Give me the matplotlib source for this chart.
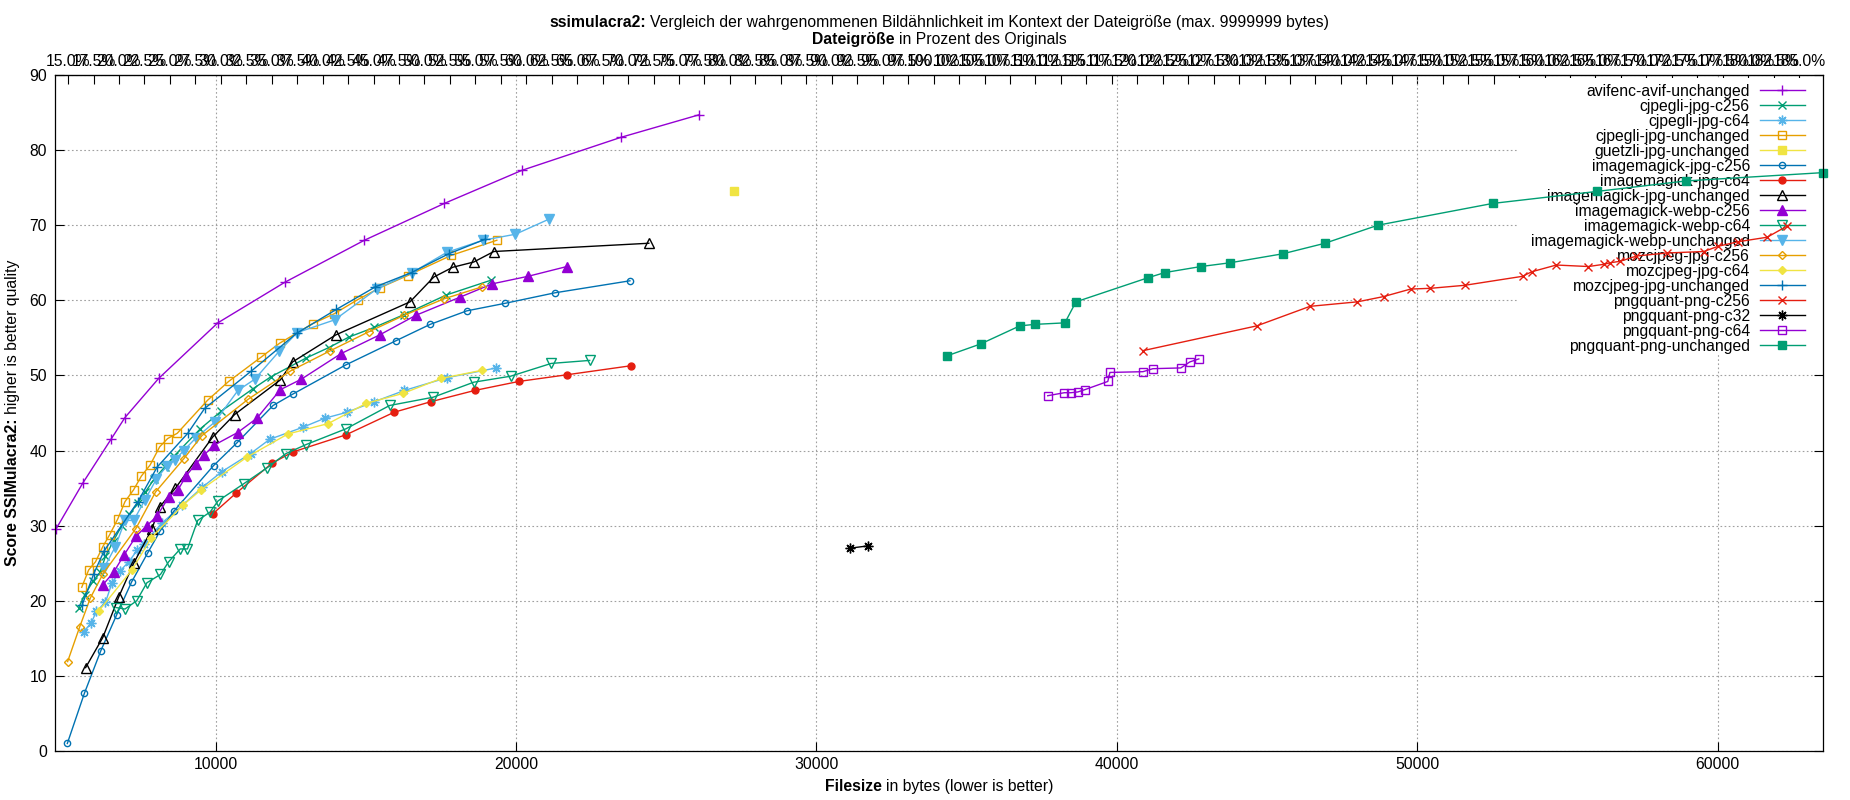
import matplotlib
matplotlib.use('Agg')
import matplotlib.pyplot as plt
from matplotlib.ticker import MultipleLocator, FormatStrFormatter
from matplotlib.patches import Rectangle

plt.rcParams['font.family'] = ['Liberation Sans', 'DejaVu Sans']
plt.rcParams['font.size'] = 11.3

# size of the original file, used for the percent axis on top
ORIGINAL_BYTES = 33900
X_MIN, X_MAX = 4660, 63510

avifenc_avif_unchanged_x = [4690, 5580, 6530, 6980, 8100, 10070, 12300, 14950, 17610, 20190, 23490, 26090]
avifenc_avif_unchanged_y = [29.6, 35.7, 41.6, 44.4, 49.6, 57.0, 62.4, 68.0, 72.9, 77.3, 81.7, 84.7]

cjpegli_jpg_c256_x = [5440, 5640, 5915, 6150, 6330, 6600, 6870, 7130, 7400, 7660, 7950, 8300, 8620,
                      9490, 10170, 11230, 11830, 13000, 13760, 14430, 15280, 16270, 17670, 19180]
cjpegli_jpg_c256_y = [19.1, 20.8, 22.6, 23.8, 25.9, 28.0, 30.0, 31.5, 33.0, 34.5, 36.2, 37.8, 39.3,
                      42.9, 45.2, 48.2, 49.8, 52.3, 53.7, 55.1, 56.4, 58.1, 60.7, 62.7]

cjpegli_jpg_c64_x = [5600, 5850, 6030, 6330, 6550, 6820, 7110, 7380, 7600, 8220, 8890, 9550, 10210,
                     11160, 11800, 12900, 13630, 14370, 15280, 16280, 17700, 19340]
cjpegli_jpg_c64_y = [15.9, 17.0, 18.6, 19.8, 22.4, 24.0, 25.2, 26.7, 27.6, 30.4, 32.7, 35.1, 37.2,
                     39.6, 41.5, 43.1, 44.3, 45.1, 46.5, 48.0, 49.7, 51.0]

cjpegli_jpg_unchanged_x = [5540, 5770, 6000, 6240, 6470, 6740, 6980, 7270, 7525, 7820, 8135, 8400,
                           8720, 9730, 10430, 11500, 12130, 13230, 13940, 14730, 15480, 16390, 17850, 19360]
cjpegli_jpg_unchanged_y = [21.8, 24.1, 25.2, 27.2, 28.8, 30.9, 33.2, 34.8, 36.6, 38.1, 40.5, 41.6,
                           42.3, 46.7, 49.2, 52.4, 54.3, 56.9, 58.2, 60.1, 61.7, 63.3, 66.0, 68.0]

guetzli_jpg_unchanged_x = [27260]
guetzli_jpg_unchanged_y = [74.5]

imagemagick_jpg_c256_x = [5060, 5630, 6170, 6700, 7200, 7740, 8150, 8600, 9930, 10700, 11910, 12560,
                          14330, 15990, 17140, 18360, 19630, 21290, 23790]
imagemagick_jpg_c256_y = [1.0, 7.7, 13.3, 18.1, 22.5, 26.4, 29.3, 31.9, 38.0, 41.0, 46.0, 47.5,
                          51.4, 54.6, 56.8, 58.6, 59.6, 61.0, 62.6]

imagemagick_jpg_c64_x = [9910, 10670, 11870, 12560, 14340, 15940, 17160, 18620, 20090, 21710, 23840]
imagemagick_jpg_c64_y = [31.6, 34.3, 38.3, 39.8, 42.1, 45.1, 46.5, 48.0, 49.2, 50.1, 51.3]

imagemagick_jpg_unchanged_x = [5670, 6240, 6770, 7270, 7870, 8135, 8660, 9900, 10630, 12150, 12560,
                               14000, 16470, 17260, 17890, 18590, 19260, 24420]
imagemagick_jpg_unchanged_y = [11.1, 15.1, 20.5, 25.0, 29.5, 32.5, 35.0, 41.8, 44.8, 49.4, 51.8,
                               55.4, 59.8, 63.1, 64.4, 65.1, 66.5, 67.6]

imagemagick_webp_c256_x = [6240, 6600, 6950, 7350, 7710, 8050, 8435, 8750, 9010, 9330, 9610, 9940,
                           10730, 11370, 12150, 12850, 14170, 15460, 16660, 18120, 19210, 20400, 21690]
imagemagick_webp_c256_y = [22.1, 23.8, 26.1, 28.6, 30.0, 31.3, 33.8, 34.8, 36.6, 38.2, 39.4, 40.7,
                           42.4, 44.3, 48.1, 49.5, 52.9, 55.4, 58.0, 60.4, 62.2, 63.2, 64.5]

imagemagick_webp_c64_x = [6680, 6980, 7370, 7710, 8160, 8435, 8820, 9060, 9400, 9810, 10080, 10940,
                          11710, 12340, 13010, 14340, 15790, 17240, 18590, 19820, 21170, 22450]
imagemagick_webp_c64_y = [19.1, 18.9, 20.0, 22.4, 23.5, 25.2, 26.9, 26.9, 30.7, 31.8, 33.3, 35.6,
                          37.7, 39.6, 40.8, 42.9, 46.0, 47.1, 49.1, 49.9, 51.6, 52.0]

imagemagick_webp_unchanged_x = [6270, 6660, 6980, 7270, 7640, 8025, 8380, 8660, 8935, 9345, 9970,
                                10740, 11300, 12110, 12710, 13960, 15360, 16540, 17700, 18900, 19980, 21090]
imagemagick_webp_unchanged_y = [24.3, 27.2, 30.7, 30.7, 33.4, 36.2, 38.0, 38.8, 40.0, 41.7, 43.8,
                                48.0, 49.5, 53.2, 55.7, 57.4, 61.5, 63.7, 66.4, 68.0, 68.8, 70.8]

mozcjpeg_jpg_c256_x = [5070, 5470, 5830, 6250, 7340, 8000, 8935, 9545, 11070, 12490, 13820, 15090,
                       16270, 17600, 18870]
mozcjpeg_jpg_c256_y = [11.9, 16.5, 20.4, 23.6, 29.6, 34.5, 38.9, 42.0, 46.8, 50.6, 53.3, 55.8,
                       58.0, 60.2, 61.8]

mozcjpeg_jpg_c64_x = [6100, 7210, 7860, 8900, 9520, 11030, 12400, 13750, 15020, 16230, 17510, 18880]
mozcjpeg_jpg_c64_y = [18.6, 24.1, 28.4, 32.7, 34.8, 39.1, 42.2, 43.6, 46.3, 47.6, 49.6, 50.7]

mozcjpeg_jpg_unchanged_x = [5550, 5940, 6280, 7410, 8050, 9070, 9630, 11190, 12690, 14020, 15320,
                            16520, 17760, 18950]
mozcjpeg_jpg_unchanged_y = [19.4, 23.6, 26.6, 33.2, 37.8, 42.3, 45.6, 50.6, 55.6, 58.8, 61.8,
                            63.7, 66.2, 68.1]

pngquant_png_c256_x = [40870, 44660, 46430, 48010, 48880, 49780, 50440, 51580, 53510, 53810, 54630,
                       55700, 56220, 56420, 56760, 57300, 58300, 59540, 60020, 60680, 61650, 62320]
pngquant_png_c256_y = [53.3, 56.6, 59.2, 59.8, 60.5, 61.5, 61.6, 62.0, 63.2, 63.8, 64.7,
                       64.5, 64.8, 65.0, 65.2, 65.9, 66.3, 66.5, 67.2, 67.8, 68.4, 69.9]

pngquant_png_c32_x = [31110, 31700]
pngquant_png_c32_y = [27.0, 27.3]

pngquant_png_c64_x = [37700, 38250, 38470, 38700, 38930, 39700, 39770, 40870, 41200, 42130, 42430, 42730]
pngquant_png_c64_y = [47.3, 47.7, 47.7, 47.8, 48.1, 49.2, 50.4, 50.5, 50.9, 51.0, 51.8, 52.2]

pngquant_png_unchanged_x = [34340, 35470, 36770, 37270, 38270, 38640, 41030, 41600, 42800, 43770,
                            45530, 46930, 48690, 52510, 55980, 58960, 63500]
pngquant_png_unchanged_y = [52.6, 54.2, 56.6, 56.8, 57.0, 59.8, 63.0, 63.7, 64.5, 65.0,
                            66.2, 67.6, 70.0, 72.9, 74.5, 75.9, 77.0]

series = [
    ('avifenc-avif-unchanged', avifenc_avif_unchanged_x, avifenc_avif_unchanged_y),
    ('cjpegli-jpg-c256', cjpegli_jpg_c256_x, cjpegli_jpg_c256_y),
    ('cjpegli-jpg-c64', cjpegli_jpg_c64_x, cjpegli_jpg_c64_y),
    ('cjpegli-jpg-unchanged', cjpegli_jpg_unchanged_x, cjpegli_jpg_unchanged_y),
    ('guetzli-jpg-unchanged', guetzli_jpg_unchanged_x, guetzli_jpg_unchanged_y),
    ('imagemagick-jpg-c256', imagemagick_jpg_c256_x, imagemagick_jpg_c256_y),
    ('imagemagick-jpg-c64', imagemagick_jpg_c64_x, imagemagick_jpg_c64_y),
    ('imagemagick-jpg-unchanged', imagemagick_jpg_unchanged_x, imagemagick_jpg_unchanged_y),
    ('imagemagick-webp-c256', imagemagick_webp_c256_x, imagemagick_webp_c256_y),
    ('imagemagick-webp-c64', imagemagick_webp_c64_x, imagemagick_webp_c64_y),
    ('imagemagick-webp-unchanged', imagemagick_webp_unchanged_x, imagemagick_webp_unchanged_y),
    ('mozcjpeg-jpg-c256', mozcjpeg_jpg_c256_x, mozcjpeg_jpg_c256_y),
    ('mozcjpeg-jpg-c64', mozcjpeg_jpg_c64_x, mozcjpeg_jpg_c64_y),
    ('mozcjpeg-jpg-unchanged', mozcjpeg_jpg_unchanged_x, mozcjpeg_jpg_unchanged_y),
    ('pngquant-png-c256', pngquant_png_c256_x, pngquant_png_c256_y),
    ('pngquant-png-c32', pngquant_png_c32_x, pngquant_png_c32_y),
    ('pngquant-png-c64', pngquant_png_c64_x, pngquant_png_c64_y),
    ('pngquant-png-unchanged', pngquant_png_unchanged_x, pngquant_png_unchanged_y),
]

# gnuplot default colour cycle and point types
colors = ['#9400d3', '#009e73', '#56b4e9', '#e69f00', '#f0e442', '#0072b2', '#e51e10', '#000000']
ASTERISK = (8, 2, 0)
markers = [  # marker, size, filled
    ('+', 7, True), ('x', 5.5, True), (ASTERISK, 7, True), ('s', 6, False), ('s', 6, True),
    ('o', 4.5, False), ('o', 5, True), ('^', 6.5, False), ('^', 6.5, True), ('v', 6.5, False),
    ('v', 6.5, True), ('D', 4.5, False), ('D', 4.5, True),
]

fig = plt.figure(figsize=(18.5, 8), dpi=100)
W, H = 1850.0, 800.0
ax = fig.add_axes([55.3 / W, 1 - 751 / H, 1767.7 / W, 676 / H])

for i, (name, xs, ys) in enumerate(series):
    c = colors[i % len(colors)]
    m, ms, filled = markers[i % len(markers)]
    ax.plot(xs, ys, color=c, lw=1.0, marker=m, ms=ms, mew=1.0,
            mfc=c if filled else 'none', mec=c, label=name, zorder=2, clip_on=False)

ax.set_xlim(X_MIN, X_MAX)
ax.set_ylim(0, 90)
ax.xaxis.set_major_locator(MultipleLocator(10000))
ax.yaxis.set_major_locator(MultipleLocator(10))
ax.set_axisbelow(True)
ax.grid(True, color='#a0a0a0', lw=0.8, dashes=(1.5, 2.2))
ax.tick_params(axis='x', direction='in', length=6.5, width=0.8, pad=4)
ax.tick_params(axis='y', direction='in', length=6.5, width=0.8, pad=6, right=True)
for s in ax.spines.values():
    s.set_linewidth(0.9)

sec = ax.secondary_xaxis('top', functions=(lambda b: b / ORIGINAL_BYTES * 100,
                                           lambda p: p * ORIGINAL_BYTES / 100))
sec.xaxis.set_major_locator(MultipleLocator(2.5))
sec.xaxis.set_major_formatter(FormatStrFormatter('%.1f%%'))
sec.tick_params(direction='in', length=6.5, width=0.8, pad=4)

# white key background that hides the grid but not the data
ax.add_patch(Rectangle((0.827, 0.586), 0.173, 0.41, transform=ax.transAxes,
                       facecolor='white', edgecolor='none', zorder=1))
leg = ax.legend(loc='upper right', bbox_to_anchor=(0.9898, 0.9874), frameon=False,
                markerfirst=False, borderpad=0, borderaxespad=0, labelspacing=0.0,
                handlelength=2.87, handletextpad=0.64, numpoints=1)
leg.set_zorder(1.5)
leg._legend_box._children[-1]._children[0].align = 'right'

renderer = fig.canvas.get_renderer()


def bold_then_plain(x, y, bold, rest, rotation=0):
    # x, y in figure pixels: centre of the whole string along its baseline
    kw = dict(rotation=rotation, rotation_mode='anchor', ha='left', va='baseline')
    t1 = fig.text(0, 0, bold, fontweight='bold', **kw)
    t2 = fig.text(0, 0, rest, **kw)
    if rotation == 0:
        w1 = t1.get_window_extent(renderer).width
        w2 = t2.get_window_extent(renderer).width
    else:
        w1 = t1.get_window_extent(renderer).height
        w2 = t2.get_window_extent(renderer).height
    sp = 4.4
    start = -(w1 + sp + w2) / 2
    if rotation == 0:
        t1.set_position(((x + start) / W, y / H))
        t2.set_position(((x + start + w1 + sp) / W, y / H))
    else:
        t1.set_position((x / W, (y + start) / H))
        t2.set_position((x / W, (y + start + w1 + sp) / H))


bold_then_plain(939, H - 27, 'ssimulacra2:',
                'Vergleich der wahrgenommenen Bildähnlichkeit im Kontext der Dateigröße (max. 9999999 bytes)')
bold_then_plain(939, H - 44, 'Dateigröße', 'in Prozent des Originals')
bold_then_plain(939, H - 791, 'Filesize', 'in bytes (lower is better)')
bold_then_plain(17, H - 413, 'Score SSIMulacra2:', 'higher is better quality', rotation=90)

fig.savefig('out.png', dpi=100)
